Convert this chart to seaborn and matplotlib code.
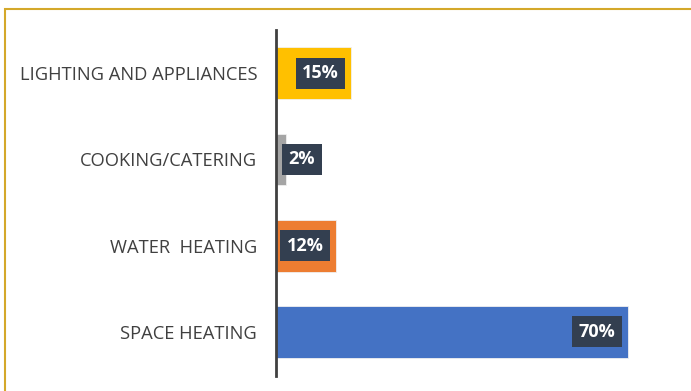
import matplotlib
matplotlib.use("Agg")
import matplotlib.pyplot as plt
import seaborn as sns
import pandas as pd
from matplotlib.patches import Rectangle

categories = ["LIGHTING AND APPLIANCES", "COOKING/CATERING", "WATER  HEATING", "SPACE HEATING"]
shares = [15, 2, 12, 70]
colors = ["#FFC000", "#A5A5A5", "#ED7D31", "#4472C4"]

df = pd.DataFrame({"category": categories, "share": shares})

sns.set_theme(style="white")
plt.rcParams["font.family"] = ["Open Sans", "DejaVu Sans"]

W, H = 691, 391
fig = plt.figure(figsize=(W / 100, H / 100), dpi=100)
ax = fig.add_axes([276 / W, (H - 376) / H, (680 - 276) / W, (376 - 30) / H])

sns.barplot(data=df, y="category", x="share", hue="category",
            palette=colors, order=categories, hue_order=categories,
            width=0.6, orient="h", legend=False, ax=ax, saturation=1,
            edgecolor="#f0f0f0", linewidth=0.6)

ax.set_xlim(0, (680 - 276) / 5.03)
ax.set_ylim(3.51, -0.5)
ax.set_xlabel("")
ax.set_ylabel("")
ax.set_xticks([])
for s in ["top", "right", "bottom"]:
    ax.spines[s].set_visible(False)
ax.spines["left"].set_color("#404040")
ax.spines["left"].set_linewidth(2)
ax.tick_params(axis="y", length=0, pad=13.5, labelsize=13.2, labelcolor="#404040")

# value labels in dark boxes at the bar ends
box = dict(boxstyle="square,pad=0.36", fc="#333F50", ec="none")
for i, v in enumerate(shares):
    if v >= 5:
        ax.annotate(f"{v}%", xy=(v, i), xytext=(-9, 0), textcoords="offset points",
                    ha="right", va="center", color="white", fontsize=13,
                    fontweight="bold", bbox=box)
    else:
        ax.annotate(f"{v}%", xy=(0, i), xytext=(9, 0), textcoords="offset points",
                    ha="left", va="center", color="white", fontsize=13,
                    fontweight="bold", bbox=box)

# gold frame around the chart area
fig.patches.append(Rectangle((5 / W, -0.1), 1.2, (H - 9) / H + 0.1,
                             transform=fig.transFigure, fill=False,
                             ec="#D4A82A", lw=1.5))

fig.savefig("out.png", dpi=100)
